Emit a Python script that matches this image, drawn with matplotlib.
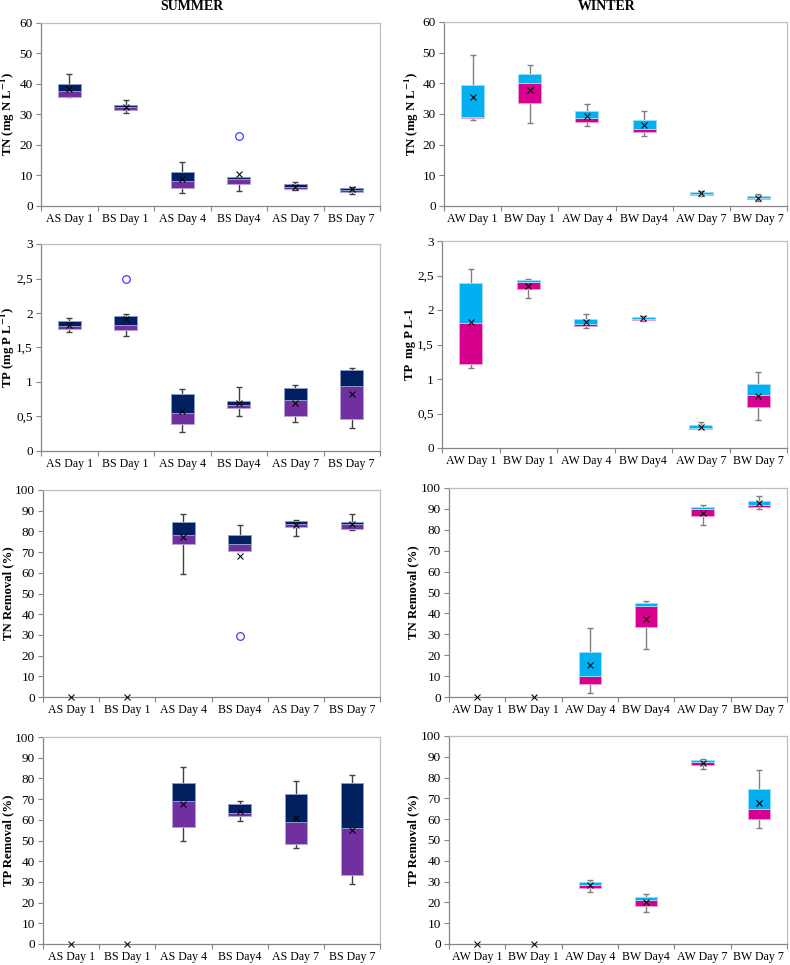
import numpy as np
import matplotlib.pyplot as plt

plt.rcParams["font.family"] = ["Liberation Serif", "DejaVu Serif"]
plt.rcParams["mathtext.fontset"] = "stix"

S_CATS = ["AS Day 1", "BS Day 1", "AS Day 4", "BS Day4", "AS Day 7", "BS Day 7"]
W_CATS = ["AW Day 1", "BW Day 1", "AW Day 4", "BW Day4", "AW Day 7", "BW Day 7"]

# rows: whisker low, Q1, median, Q3, whisker high, mean (nan = no box)
TN_S = np.array([
    [35.5, 30.3, 4.1, 5.0, 5.2, 3.9],
    [35.8, 31.5, 5.8, 7.3, 5.7, 4.6],
    [37.7, 32.4, 8.3, 8.8, 6.3, 5.2],
    [39.8, 33.1, 11.0, 9.4, 7.1, 6.0],
    [43.1, 34.6, 14.5, 9.5, 8.0, 6.3],
    [38.2, 32.3, 8.7, 10.4, 6.3, 5.5],
])
TN_W = np.array([
    [28.1, 27.1, 26.1, 22.7, 3.1, 1.7],
    [28.7, 33.6, 27.4, 24.0, 3.5, 2.2],
    [29.0, 40.1, 28.7, 25.2, 3.9, 2.5],
    [39.3, 43.2, 30.9, 28.1, 4.5, 3.1],
    [49.2, 46.1, 33.2, 31.1, 5.0, 3.8],
    [35.5, 37.7, 29.2, 26.3, 4.1, 2.7],
])
TP_S = np.array([
    [1.72, 1.67, 0.27, 0.51, 0.42, 0.33],
    [1.77, 1.75, 0.39, 0.62, 0.50, 0.46],
    [1.81, 1.83, 0.55, 0.67, 0.74, 0.94],
    [1.88, 1.96, 0.82, 0.73, 0.92, 1.18],
    [1.93, 1.99, 0.90, 0.93, 0.96, 1.21],
    [1.83, 1.92, 0.58, 0.69, 0.70, 0.83],
])
TP_W = np.array([
    [1.16, 2.17, 1.74, 1.84, 0.28, 0.40],
    [1.22, 2.30, 1.77, 1.85, 0.28, 0.59],
    [1.81, 2.41, 1.80, 1.87, 0.29, 0.77],
    [2.39, 2.43, 1.87, 1.90, 0.33, 0.93],
    [2.59, 2.45, 1.94, 1.92, 0.38, 1.10],
    [1.83, 2.35, 1.83, 1.88, 0.31, 0.76],
])
TNR_S = np.array([
    [np.nan, np.nan, 59.3, 70.3, 77.8, 80.7],
    [np.nan, np.nan, 73.8, 70.3, 82.3, 81.3],
    [np.nan, np.nan, 78.3, 73.8, 83.8, 83.4],
    [np.nan, np.nan, 84.4, 78.1, 85.0, 84.7],
    [np.nan, np.nan, 88.4, 83.0, 85.6, 88.5],
    [0, 0, 77.3, 68.3, 83.2, 83.8],
])
TNR_W = np.array([
    [np.nan, np.nan, 1.7, 22.9, 82.4, 90.1],
    [np.nan, np.nan, 6.2, 33.4, 86.4, 90.9],
    [np.nan, np.nan, 10.2, 43.7, 90.1, 91.8],
    [np.nan, np.nan, 21.5, 44.8, 90.9, 93.9],
    [np.nan, np.nan, 32.9, 45.7, 92.0, 96.2],
    [0, 0, 15.1, 37.4, 88.1, 92.6],
])
TPR_S = np.array([
    [np.nan, np.nan, 49.9, 59.4, 46.4, 29.0],
    [np.nan, np.nan, 56.5, 61.7, 48.5, 33.2],
    [np.nan, np.nan, 69.2, 63.4, 59.0, 56.2],
    [np.nan, np.nan, 77.9, 67.6, 72.5, 77.8],
    [np.nan, np.nan, 85.5, 69.2, 78.6, 81.6],
    [0, 0, 67.8, 64.4, 60.9, 55.3],
])
TPR_W = np.array([
    [np.nan, np.nan, 24.9, 15.5, 84.3, 55.6],
    [np.nan, np.nan, 26.7, 18.5, 85.9, 60.1],
    [np.nan, np.nan, 28.3, 21.2, 87.3, 64.7],
    [np.nan, np.nan, 29.6, 22.7, 88.3, 74.3],
    [np.nan, np.nan, 30.7, 24.2, 89.1, 83.5],
    [0, 0, 28.3, 20.4, 87.1, 67.9],
])

# outliers: (category index, value)
TN_S_OUT = [(3, 22.9)]
TP_S_OUT = [(1, 2.50)]
TNR_S_OUT = [(3, 29.4)]

SUMMER = dict(lo="#7030A0", hi="#002060", elo="#B9A3D6", ehi="#8C9CC8", wh="#404040")
WINTER = dict(lo="#D6008C", hi="#00B0F0", elo="#F39AD3", ehi="#9ADDF8", wh="#7F7F7F")

W, H = 790, 965


def draw(ax, stats, cats, pal, ylim, yticks, ylabel, label_x, outliers=(), comma=False):
    x = np.arange(len(cats))
    lo, q1, med, q3, hi, mean = stats
    ok = ~np.isnan(q1)
    xs = x[ok]
    ax.errorbar(xs, med[ok], yerr=[med[ok] - lo[ok], hi[ok] - med[ok]], fmt="none",
                ecolor=pal["wh"], elinewidth=1.0, capsize=2.2, capthick=1.0, zorder=2)
    ax.bar(xs, med[ok] - q1[ok], bottom=q1[ok], width=0.4, color=pal["lo"],
           edgecolor=pal["elo"], linewidth=0.7, zorder=3)
    ax.bar(xs, q3[ok] - med[ok], bottom=med[ok], width=0.4, color=pal["hi"],
           edgecolor=pal["ehi"], linewidth=0.7, zorder=3)
    ax.plot(x, mean, ls="none", marker="x", ms=5, mew=0.75, color="black", zorder=5,
            clip_on=False)
    for i, v in outliers:
        ax.plot(i, v, ls="none", marker="o", ms=5.5, mfc="none", mec="#3C3CFF",
                mew=0.9, zorder=5)

    ax.set_xlim(-0.5, len(cats) - 0.5)
    ax.set_ylim(*ylim)
    ax.set_yticks(yticks)
    if comma:
        ax.set_yticklabels([f"{t:g}".replace(".", ",") for t in yticks])
    ax.set_xticks(x)
    ax.set_xticklabels(cats, fontsize=8.6)
    ax.set_xticks(np.arange(-0.5, len(cats)), minor=True)
    ax.tick_params(axis="x", which="major", length=0, pad=5)
    ax.tick_params(axis="x", which="minor", length=3.5, color="#868686", width=0.8)
    ax.tick_params(axis="y", length=3.5, color="#868686", width=0.8, labelsize=9.5, pad=2.5)
    ax.set_ylabel(ylabel, fontsize=9.2, fontweight="bold")
    # label centre given in figure pixels
    pos = ax.get_position()
    ax.yaxis.set_label_coords((label_x - pos.x0 * W) / (pos.width * W), 0.5)
    ax.yaxis.label.set_va("center")
    for side in ["top", "right"]:
        ax.spines[side].set_color("#BFBFBF")
        ax.spines[side].set_linewidth(0.9)
    for side in ["left", "bottom"]:
        ax.spines[side].set_color("#868686")
        ax.spines[side].set_linewidth(0.9)


fig = plt.figure(figsize=(7.9, 9.65), dpi=100)


def add_axes(x0, x1, y0, y1):
    return fig.add_axes([x0 / W, 1 - y1 / H, (x1 - x0) / W, (y1 - y0) / H])


tn_ticks = np.arange(0, 61, 10)
tp_ticks = np.arange(0, 3.01, 0.5)
r_ticks = np.arange(0, 101, 10)
TN_LBL = r"TN (mg N L$^{\mathbf{-1}}$)"
TP_LBL = r"TP (mg P L$^{\mathbf{-1}}$)"

ax = add_axes(41, 380, 22.5, 206)
draw(ax, TN_S, S_CATS, SUMMER, (0, 60), tn_ticks, TN_LBL, 8, TN_S_OUT)
ax = add_axes(444, 787, 22, 206)
draw(ax, TN_W, W_CATS, WINTER, (0, 60), tn_ticks, TN_LBL, 412)

ax = add_axes(41, 380, 244, 451)
draw(ax, TP_S, S_CATS, SUMMER, (0, 3), tp_ticks, TP_LBL, 8, TP_S_OUT, comma=True)
ax = add_axes(442, 787, 241, 448)
draw(ax, TP_W, W_CATS, WINTER, (0, 3), tp_ticks, "TP  mg P L-1", 410, comma=True)

ax = add_axes(43, 380, 490, 697)
draw(ax, TNR_S, S_CATS, SUMMER, (0, 100), r_ticks, "TN Removal (%)", 8, TNR_S_OUT)
ax = add_axes(449, 787, 488, 697)
draw(ax, TNR_W, W_CATS, WINTER, (0, 100), r_ticks, "TN Removal (%)", 413)

ax = add_axes(43, 380, 737, 944)
draw(ax, TPR_S, S_CATS, SUMMER, (0, 100), r_ticks, "TP Removal (%)", 8)
ax = add_axes(449, 787, 736, 944)
draw(ax, TPR_W, W_CATS, WINTER, (0, 100), r_ticks, "TP Removal (%)", 413)

fig.text(192 / W, 1 - 7 / H, "SUMMER", ha="center", va="center", fontsize=10,
         fontweight="bold")
fig.text(607 / W, 1 - 7 / H, "WINTER", ha="center", va="center", fontsize=10,
         fontweight="bold")

fig.savefig("out.png", dpi=100, facecolor="white")
